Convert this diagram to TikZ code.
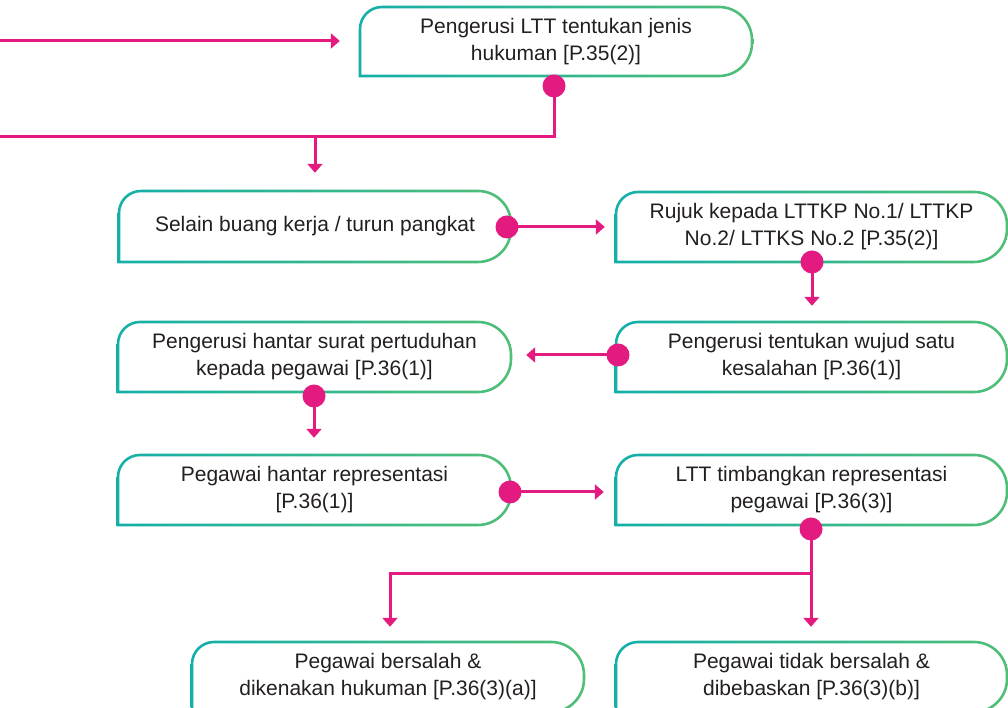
\documentclass[tikz,border=0pt]{standalone}
\usepackage{fontspec}
\setmainfont{Liberation Sans}
\usetikzlibrary{arrows.meta,backgrounds}
\definecolor{mag}{HTML}{E31A80}
\definecolor{tealc}{HTML}{14AFA8}
\definecolor{greenc}{HTML}{50BE76}
\definecolor{txt}{HTML}{231F20}
% \flowbox{name}{L}{T}{R}{B}{text}  (pixel coordinates, y downward)
\newcommand{\flowbox}[6]{%
  \pgfmathsetmacro{\fbyt}{708-#3}%
  \pgfmathsetmacro{\fbyb}{708-#5}%
  \pgfmathsetmacro{\fbrl}{22}%
  \pgfmathsetmacro{\fbrr}{33}%
  \pgfmathsetmacro{\fbo}{1.3}%
  \shade[left color=tealc, right color=greenc, even odd rule]
    (#2-\fbo,\fbyb-\fbo) -- (#2-\fbo,\fbyt-\fbrl)
      arc[start angle=180,end angle=90,radius=\fbrl+\fbo]
      -- (#4-\fbrr,\fbyt+\fbo)
      arc[start angle=90,end angle=0,radius=\fbrr+\fbo]
      -- (#4+\fbo,\fbyb+\fbrr)
      arc[start angle=0,end angle=-90,radius=\fbrr+\fbo]
      -- cycle
    (#2+\fbo,\fbyb+\fbo) -- (#2+\fbo,\fbyt-\fbrl)
      arc[start angle=180,end angle=90,radius=\fbrl-\fbo]
      -- (#4-\fbrr,\fbyt-\fbo)
      arc[start angle=90,end angle=0,radius=\fbrr-\fbo]
      -- (#4-\fbo,\fbyb+\fbrr)
      arc[start angle=0,end angle=-90,radius=\fbrr-\fbo]
      -- cycle;
  \node[boxtext, minimum width=#4-#2, minimum height=#5-#3] (#1) at ({(#2+#4)/2},{708-(#3+#5)/2}) {#6};%
}
\begin{document}
\begin{tikzpicture}[x=1pt,y=1pt,
  boxtext/.style={inner sep=0pt, align=center, text=txt, font=\fontsize{21}{27}\selectfont},
  dot/.style={circle, fill=mag, inner sep=0pt, minimum size=23pt},
  arr/.style={draw=mag, line width=3pt, -{Triangle[length=9pt,width=15pt]}},
  ln/.style={draw=mag, line width=3pt}]
\useasboundingbox (0,0) rectangle (1008,708);

\flowbox{b1}{360}{7}{752}{76}{Pengerusi LTT tentukan jenis\\hukuman [P.35(2)]}
\flowbox{b2}{119}{191}{511}{262}{Selain buang kerja / turun pangkat}
\flowbox{b3}{616}{192}{1007}{262}{Rujuk kepada LTTKP No.1/ LTTKP\\No.2/ LTTKS No.2 [P.35(2)]}
\flowbox{b4}{616}{322}{1007}{392}{Pengerusi tentukan wujud satu\\kesalahan [P.36(1)]}
\flowbox{b5}{118}{322}{511}{392}{Pengerusi hantar surat pertuduhan\\kepada pegawai [P.36(1)]}
\flowbox{b6}{118}{455}{511}{525}{Pegawai hantar representasi\\{[}P.36(1)]}
\flowbox{b7}{616}{455}{1007}{525}{LTT timbangkan representasi\\pegawai [P.36(3)]}
\flowbox{b8}{192}{642}{584}{712}{Pegawai bersalah \&\\dikenakan hukuman [P.36(3)(a)]}
\flowbox{b9}{616}{642}{1007}{712}{Pegawai tidak bersalah \&\\dibebaskan [P.36(3)(b)]}

% connection dots
\node[dot] (d1) at (554,708-86) {};
\node[dot] (d2) at (507,708-227) {};
\node[dot] (d3) at (812,708-262) {};
\node[dot] (d4) at (618,708-355) {};
\node[dot] (d5) at (314,708-396) {};
\node[dot] (d6) at (510,708-492) {};
\node[dot] (d7) at (811,708-529) {};

% free ends and junctions
\coordinate (in1) at (0,708-41);
\coordinate (in2) at (0,708-137);
\coordinate (j1) at (554,708-137);
\coordinate (j2) at (315,708-137);
\coordinate (j3) at (811,708-574);
\coordinate (j4) at (390,708-574);

\begin{scope}[on background layer]
\draw[arr, shorten >=20pt] (in1) -- (in1 -| b1.west);
\draw[ln] (d1.center) -- (j1) -- (in2);
\draw[arr, shorten >=18pt] (j2) -- (j2 |- b2.north);
\draw[arr, shorten >=11pt] (d2.center) -- (d2 -| b3.west);
\draw[arr, shorten >=16pt] (d3.center) -- (d3 |- b4.north);
\draw[arr, shorten >=15pt] (d4.center) -- (d4 -| b5.east);
\draw[arr, shorten >=17pt] (d5.center) -- (d5 |- b6.north);
\draw[arr, shorten >=12pt] (d6.center) -- (d6 -| b7.west);
\draw[arr, shorten >=15pt] (d7.center) -- (d7 |- b9.north);
\draw[arr, shorten >=15pt] (j3) -- (j4) -- (j4 |- b8.north);
\end{scope}
\end{tikzpicture}
\end{document}
